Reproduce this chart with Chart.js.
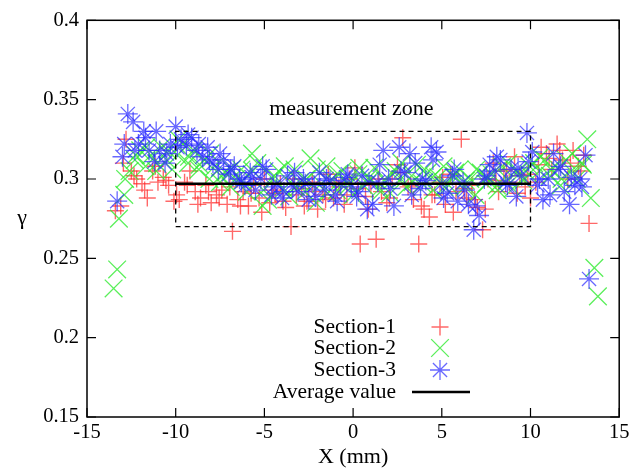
<!DOCTYPE html>
<html>
<head>
<meta charset="utf-8">
<script src="https://cdn.jsdelivr.net/npm/chart.js@4.4.1/dist/chart.umd.min.js"></script>
<style>
  html, body { margin: 0; padding: 0; background: #fff; overflow: hidden; }
  #gammaChart { display: block; }
</style>
</head>
<body>
<canvas id="gammaChart" width="633" height="473"></canvas>
<script>
// Section-1 (red +)
const sec1X = [
  -13.4, -13.1, -12.8, -12.5, -12.2, -11.9, -11.6, -11.3, -11.0, -10.7,
  -10.4, -10.1, -9.8, -9.5, -9.2, -8.9, -8.6, -8.3, -8.0, -7.7,
  -7.4, -7.1, -6.8, -6.5, -6.2, -5.9, -5.6, -5.3, -5.0, -4.7,
  -4.4, -4.1, -3.8, -3.5, -3.2, -2.9, -2.6, -2.3, -2.0, -1.7,
  -1.4, -1.1, -0.8, -0.5, -0.2, 0.1, 0.4, 0.7, 1.0, 1.3,
  1.6, 1.9, 2.2, 2.5, 2.8, 3.1, 3.4, 3.7, 4.0, 4.3,
  4.6, 4.9, 5.2, 5.5, 5.8, 6.1, 6.4, 6.7, 7.0, 7.3,
  7.6, 7.9, 8.2, 8.5, 8.8, 9.1, 9.4, 9.7, 10.0, 10.3,
  10.6, 10.9, 11.2, 11.5, 11.8, 12.1, 12.4, 12.7, 13.0, 13.3,
  -12.95, -12.35, -11.75, -11.15, -10.55, -9.95, -9.35, -8.75, -8.15, -7.55,
  -6.95, -6.35, -5.75, -5.15, -4.55, -3.95, -3.35, -2.75, -2.15, -1.55,
  -0.95, -0.35, 0.25, 0.85, 1.45, 2.05, 2.65, 3.25, 3.85, 4.45,
  5.05, 5.65, 6.25, 6.85, 7.45, 8.05, 8.65, 9.25, 9.85, 10.45,
  11.05, 11.65, 12.25, 12.85
];
const sec1Y = [
  0.280, 0.283, 0.325, 0.305, 0.300, 0.297, 0.288, 0.305, 0.298, 0.301,
  0.296, 0.286, 0.287, 0.298, 0.305, 0.292, 0.288, 0.296, 0.285, 0.290,
  0.293, 0.284, 0.267, 0.287, 0.292, 0.283, 0.296, 0.288, 0.300, 0.285,
  0.291, 0.297, 0.282, 0.270, 0.290, 0.294, 0.286, 0.298, 0.281, 0.290,
  0.303, 0.288, 0.295, 0.284, 0.300, 0.307, 0.259, 0.289, 0.296, 0.262,
  0.292, 0.285, 0.300, 0.309, 0.326, 0.295, 0.287, 0.259, 0.281, 0.276,
  0.290, 0.298, 0.284, 0.303, 0.292, 0.325, 0.288, 0.296, 0.282, 0.268,
  0.300, 0.310, 0.292, 0.305, 0.298, 0.314, 0.302, 0.295, 0.288, 0.298,
  0.320, 0.316, 0.306, 0.322, 0.312, 0.300, 0.318, 0.308, 0.315, 0.272,
  0.310, 0.302, 0.293, 0.308, 0.299, 0.290, 0.296, 0.284, 0.292, 0.288,
  0.295, 0.283, 0.291, 0.279, 0.293, 0.286, 0.300, 0.283, 0.292, 0.287,
  0.298, 0.290, 0.294, 0.281, 0.300, 0.288, 0.304, 0.296, 0.283, 0.290,
  0.301, 0.279, 0.294, 0.287, 0.281, 0.299, 0.306, 0.291, 0.303, 0.309,
  0.313, 0.318, 0.310, 0.305
];

// Section-2 (green x)
const sec2X = [
  -13.5, -13.3, -13.2, -12.9, -12.6, -12.3, -12.0, -11.7, -11.4, -11.1,
  -10.8, -10.5, -10.2, -9.9, -9.6, -9.3, -9.0, -8.7, -8.4, -8.1,
  -7.8, -7.5, -7.2, -6.9, -6.6, -6.3, -6.0, -5.7, -5.4, -5.1,
  -4.8, -4.5, -4.2, -3.9, -3.6, -3.3, -3.0, -2.7, -2.4, -2.1,
  -1.8, -1.5, -1.2, -0.9, -0.6, -0.3, 0.0, 0.3, 0.6, 0.9,
  1.2, 1.5, 1.8, 2.1, 2.4, 2.7, 3.0, 3.3, 3.6, 3.9,
  4.2, 4.5, 4.8, 5.1, 5.4, 5.7, 6.0, 6.3, 6.6, 6.9,
  7.2, 7.5, 7.8, 8.1, 8.4, 8.7, 9.0, 9.3, 9.6, 9.9,
  10.2, 10.5, 10.8, 11.1, 11.4, 11.7, 12.0, 12.3, 12.6, 12.9,
  13.2, 13.4, 13.6, 13.8,
  -12.85, -12.25, -11.65, -11.05, -10.45, -9.85, -9.25, -8.65, -8.05, -7.45,
  -6.85, -6.25, -5.65, -5.05, -4.45, -3.85, -3.25, -2.65, -2.05, -1.45,
  -0.85, -0.25, 0.35, 0.95, 1.55, 2.15, 2.75, 3.35, 3.95, 4.55,
  5.15, 5.75, 6.35, 6.95, 7.55, 8.15, 8.75, 9.35, 9.95, 10.55,
  11.15, 11.75, 12.35, 12.95
];
const sec2Y = [
  0.231, 0.243, 0.275, 0.290, 0.305, 0.312, 0.318, 0.308, 0.315, 0.305,
  0.320, 0.312, 0.306, 0.315, 0.322, 0.310, 0.318, 0.306, 0.312, 0.300,
  0.308, 0.298, 0.304, 0.295, 0.300, 0.306, 0.292, 0.316, 0.310, 0.283,
  0.287, 0.300, 0.305, 0.294, 0.289, 0.306, 0.298, 0.292, 0.313, 0.285,
  0.297, 0.308, 0.300, 0.293, 0.305, 0.298, 0.290, 0.303, 0.296, 0.301,
  0.307, 0.294, 0.299, 0.291, 0.305, 0.300, 0.295, 0.302, 0.309, 0.297,
  0.304, 0.293, 0.301, 0.308, 0.296, 0.302, 0.306, 0.295, 0.300, 0.290,
  0.304, 0.297, 0.303, 0.296, 0.308, 0.300, 0.294, 0.305, 0.299, 0.303,
  0.310, 0.305, 0.312, 0.302, 0.308, 0.296, 0.312, 0.305, 0.300, 0.310,
  0.325, 0.288, 0.244, 0.226,
  0.300, 0.315, 0.320, 0.310, 0.318, 0.325, 0.314, 0.309, 0.316, 0.302,
  0.306, 0.299, 0.305, 0.293, 0.302, 0.308, 0.295, 0.300, 0.306, 0.291,
  0.303, 0.296, 0.307, 0.299, 0.292, 0.304, 0.310, 0.298, 0.305, 0.302,
  0.295, 0.304, 0.299, 0.306, 0.301, 0.293, 0.310, 0.303, 0.308, 0.314,
  0.306, 0.300, 0.316, 0.309
];

// Section-3 (blue *)
const sec3X = [
  -13.3, -13.0, -12.7, -12.4, -12.1, -11.8, -11.5, -11.2, -10.9, -10.6,
  -10.3, -10.0, -9.7, -9.4, -9.1, -8.8, -8.5, -8.2, -7.9, -7.6,
  -7.3, -7.0, -6.7, -6.4, -6.1, -5.8, -5.5, -5.2, -4.9, -4.6,
  -4.3, -4.0, -3.7, -3.4, -3.1, -2.8, -2.5, -2.2, -1.9, -1.6,
  -1.3, -1.0, -0.7, -0.4, -0.1, 0.2, 0.5, 0.8, 1.1, 1.4,
  1.7, 2.0, 2.3, 2.6, 2.9, 3.2, 3.5, 3.8, 4.1, 4.4,
  4.7, 5.0, 5.3, 5.6, 5.9, 6.2, 6.5, 6.8, 7.1, 7.4,
  7.7, 8.0, 8.3, 8.6, 8.9, 9.2, 9.5, 9.8, 10.1, 10.4,
  10.7, 11.0, 11.3, 11.6, 11.9, 12.2, 12.5, 12.8, 13.1, 13.3,
  -12.9, -12.3, -11.7, -11.1, -10.5, -9.9, -9.3, -8.7, -8.1, -7.5,
  -6.9, -6.3, -5.7, -5.1, -4.5, -3.9, -3.3, -2.7, -2.1, -1.5,
  -0.9, -0.3, 0.3, 0.9, 1.5, 2.1, 2.7, 3.3, 3.9, 4.5,
  5.1, 5.7, 6.3, 6.9, 7.5, 8.1, 8.7, 9.3, 9.9, 10.5,
  11.1, 11.7, 12.3, 12.9
];
const sec3Y = [
  0.286, 0.314, 0.341, 0.336, 0.322, 0.330, 0.318, 0.311, 0.318, 0.310,
  0.322, 0.333, 0.325, 0.321, 0.326, 0.318, 0.314, 0.320, 0.310, 0.306,
  0.312, 0.303, 0.308, 0.300, 0.296, 0.304, 0.293, 0.300, 0.306, 0.290,
  0.297, 0.288, 0.302, 0.295, 0.292, 0.300, 0.287, 0.296, 0.304, 0.293,
  0.299, 0.290, 0.297, 0.301, 0.295, 0.289, 0.302, 0.281, 0.284, 0.298,
  0.318, 0.300, 0.283, 0.320, 0.304, 0.316, 0.310, 0.294, 0.299, 0.320,
  0.317, 0.297, 0.291, 0.302, 0.286, 0.298, 0.284, 0.268, 0.277, 0.300,
  0.309, 0.305, 0.312, 0.298, 0.306, 0.289, 0.302, 0.329, 0.317, 0.296,
  0.287, 0.300, 0.316, 0.306, 0.292, 0.284, 0.296, 0.300, 0.315, 0.237,
  0.322, 0.318, 0.326, 0.330, 0.316, 0.320, 0.328, 0.322, 0.312, 0.316,
  0.306, 0.298, 0.301, 0.308, 0.295, 0.292, 0.304, 0.297, 0.289, 0.300,
  0.286, 0.303, 0.292, 0.298, 0.309, 0.294, 0.305, 0.290, 0.300, 0.312,
  0.288, 0.306, 0.293, 0.283, 0.302, 0.314, 0.296, 0.307, 0.311, 0.300,
  0.290, 0.308, 0.301, 0.295
];

// average line and measurement zone
const avgValue = 0.297;
const avgRange = [-10, 10];
const zoneX = [-10, 10];
const zoneY = [0.27, 0.33];

const xTicks = [-15, -10, -5, 0, 5, 10, 15];
const yTicks = [0.15, 0.2, 0.25, 0.3, 0.35, 0.4];

const legendLabels = ['Section-1', 'Section-2', 'Section-3', 'Average value'];

const FONT = "'Liberation Serif', 'DejaVu Serif', serif";

function toPoints(xs, ys) {
  return xs.map((x, i) => ({ x: x, y: ys[i] }));
}

const colors = {
  red: 'rgba(255, 40, 40, 0.7)',
  green: 'rgba(50, 235, 50, 0.8)',
  blue: 'rgba(40, 40, 255, 0.7)'
};

// Gnuplot-ish decorations: inward ticks, frame, legend, labels
const gnuplotDecor = {
  id: 'gnuplotDecor',
  afterDraw(chart) {
    const ctx = chart.ctx;
    const area = chart.chartArea;
    const xs = chart.scales.x;
    const ys = chart.scales.y;
    ctx.save();

    // frame
    ctx.strokeStyle = '#000';
    ctx.lineWidth = 1.5;
    ctx.strokeRect(area.left, area.top, area.right - area.left, area.bottom - area.top);

    // inward ticks on all sides
    ctx.lineWidth = 1.2;
    ctx.beginPath();
    xTicks.forEach(v => {
      const px = xs.getPixelForValue(v);
      ctx.moveTo(px, area.bottom); ctx.lineTo(px, area.bottom - 9);
      ctx.moveTo(px, area.top); ctx.lineTo(px, area.top + 9);
    });
    yTicks.forEach(v => {
      const py = ys.getPixelForValue(v);
      ctx.moveTo(area.left, py); ctx.lineTo(area.left + 9, py);
      ctx.moveTo(area.right, py); ctx.lineTo(area.right - 9, py);
    });
    ctx.stroke();

    // zone label
    ctx.fillStyle = '#000';
    ctx.font = '22px ' + FONT;
    ctx.textAlign = 'center';
    ctx.textBaseline = 'middle';
    ctx.fillText('measurement zone', xs.getPixelForValue(-0.1), 109);

    // axis titles
    ctx.font = '22px ' + FONT;
    ctx.fillText('X (mm)', (area.left + area.right) / 2, 457);
    ctx.fillText('\u03b3', 22, (area.top + area.bottom) / 2);

    // legend
    const textRight = 396;
    const sampleX = 440;
    const rowY = [327, 348, 370, 392];
    ctx.font = '21.5px ' + FONT;
    ctx.textAlign = 'right';
    legendLabels.forEach((lab, i) => {
      ctx.fillStyle = '#000';
      ctx.fillText(lab, textRight, rowY[i]);
    });
    const ds = chart.data.datasets;
    for (let i = 0; i < 3; i++) {
      ctx.strokeStyle = ds[i].borderColor;
      ctx.lineWidth = ds[i].pointBorderWidth;
      Chart.helpers.drawPoint(ctx, {
        pointStyle: ds[i].pointStyle,
        radius: ds[i].pointRadius,
        borderWidth: ds[i].pointBorderWidth,
        rotation: 0
      }, sampleX, rowY[i]);
    }
    ctx.strokeStyle = '#000';
    ctx.lineWidth = 2.5;
    ctx.beginPath();
    ctx.moveTo(412, rowY[3]);
    ctx.lineTo(470, rowY[3]);
    ctx.stroke();

    ctx.restore();
  }
};

new Chart(document.getElementById('gammaChart').getContext('2d'), {
  type: 'scatter',
  data: {
    datasets: [
      {
        label: 'Section-1',
        data: toPoints(sec1X, sec1Y),
        pointStyle: 'cross',
        pointRadius: 8.5,
        pointBorderWidth: 1.4,
        borderColor: colors.red,
        backgroundColor: colors.red,
        order: 3
      },
      {
        label: 'Section-2',
        data: toPoints(sec2X, sec2Y),
        pointStyle: 'crossRot',
        pointRadius: 12.5,
        pointBorderWidth: 1.3,
        borderColor: colors.green,
        backgroundColor: colors.green,
        order: 2
      },
      {
        label: 'Section-3',
        data: toPoints(sec3X, sec3Y),
        pointStyle: 'star',
        pointRadius: 10,
        pointBorderWidth: 1.3,
        borderColor: colors.blue,
        backgroundColor: colors.blue,
        order: 1
      },
      {
        label: 'Average value',
        type: 'line',
        data: avgRange.map(x => ({ x: x, y: avgValue })),
        borderColor: '#000',
        borderWidth: 2.5,
        pointRadius: 0,
        fill: false,
        order: 0
      },
      {
        label: 'zone',
        type: 'line',
        data: [
          { x: zoneX[0], y: zoneY[0] },
          { x: zoneX[1], y: zoneY[0] },
          { x: zoneX[1], y: zoneY[1] },
          { x: zoneX[0], y: zoneY[1] },
          { x: zoneX[0], y: zoneY[0] }
        ],
        borderColor: '#000',
        borderWidth: 1.3,
        borderDash: [5, 4],
        pointRadius: 0,
        fill: false,
        order: 0
      }
    ]
  },
  options: {
    responsive: false,
    animation: false,
    layout: { padding: { top: 12, right: 11, left: 0, bottom: 0 } },
    plugins: {
      legend: { display: false },
      tooltip: { enabled: false }
    },
    scales: {
      x: {
        type: 'linear',
        min: -15,
        max: 15,
        grid: { display: false, drawTicks: false },
        border: { display: false },
        afterBuildTicks: scale => { scale.ticks = xTicks.map(v => ({ value: v })); },
        afterFit: scale => { scale.height = 56; },
        ticks: {
          color: '#000',
          padding: 3,
          maxRotation: 0,
          autoSkip: false,
          font: { family: FONT, size: 20.5 },
          callback: v => String(v)
        }
      },
      y: {
        type: 'linear',
        min: 0.15,
        max: 0.4,
        grid: { display: false, drawTicks: false },
        border: { display: false },
        afterBuildTicks: scale => { scale.ticks = yTicks.map(v => ({ value: v })); },
        afterFit: scale => { scale.width = 87; },
        ticks: {
          color: '#000',
          padding: 8,
          autoSkip: false,
          font: { family: FONT, size: 20.5 },
          callback: v => String(v)
        }
      }
    }
  },
  plugins: [gnuplotDecor]
});
</script>
</body>
</html>
